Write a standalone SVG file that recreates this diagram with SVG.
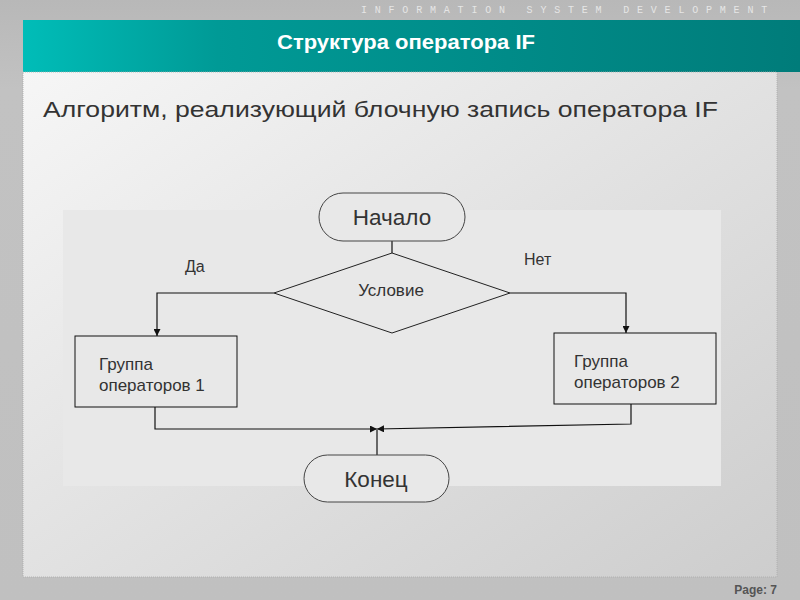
<svg xmlns="http://www.w3.org/2000/svg" width="800" height="600" viewBox="0 0 800 600">
<defs>
<linearGradient id="hdr" x1="0" y1="0" x2="1" y2="0">
<stop offset="0" stop-color="#00bdb8"/>
<stop offset="0.25" stop-color="#009a96"/>
<stop offset="1" stop-color="#007c7a"/>
</linearGradient>
<linearGradient id="panel" x1="0" y1="0" x2="1" y2="1">
<stop offset="0" stop-color="#f6f6f6"/>
<stop offset="1" stop-color="#cdcdcd"/>
</linearGradient>
<linearGradient id="bg" x1="0" y1="0" x2="0" y2="1">
<stop offset="0" stop-color="#b8b8b8"/>
<stop offset="0.15" stop-color="#c2c2c2"/>
<stop offset="1" stop-color="#c0c0c0"/>
</linearGradient>
<marker id="arr" viewBox="0 0 10 10" refX="10" refY="5" markerWidth="7" markerHeight="7" orient="auto" markerUnits="userSpaceOnUse">
<path d="M0,0 L10,5 L0,10 z" fill="#111"/>
</marker>
</defs>
<style>
.term{fill:#e8e8e8;stroke:#444;stroke-width:1}
.box{fill:#e8e8e8;stroke:#111;stroke-width:1}
.t{font-family:"Liberation Sans",Arial,sans-serif;fill:#333}
.conn{fill:none;stroke:#111;stroke-width:1.2}
</style>
<rect x="0" y="0" width="800" height="600" fill="url(#bg)"/>
<text x="775" y="13" text-anchor="end" font-family="Liberation Mono,monospace" font-size="10" letter-spacing="7.8" fill="#e6e6e6">INFORMATION  SYSTEM  DEVELOPMENT</text>
<rect x="23" y="20" width="777" height="52" fill="url(#hdr)"/>
<text x="406" y="49" text-anchor="middle" font-family="Liberation Sans,Arial,sans-serif" font-weight="bold" font-size="20" fill="#ffffff" textLength="258" lengthAdjust="spacingAndGlyphs">Структура оператора IF</text>
<rect x="23" y="72" width="754" height="505" fill="url(#panel)" stroke="#aaaaaa" stroke-width="0.8" stroke-dasharray="1 1"/>
<text x="43" y="117" class="t" font-size="22" fill="#222" textLength="675" lengthAdjust="spacingAndGlyphs">Алгоритм, реализующий блочную запись оператора IF</text>
<rect x="63" y="210" width="658" height="276" fill="#e8e8e8"/>
<g id="connectors">
<line x1="392" y1="241" x2="392" y2="253" class="conn" stroke="#555"/>
<polyline points="274,293 157,293 157,336" class="conn" marker-end="url(#arr)"/>
<polyline points="510,293 626,293 626,333" class="conn" marker-end="url(#arr)"/>
<polyline points="155,407 155,429 377,429" class="conn" marker-end="url(#arr)"/>
<polyline points="631,404 631,424 377,429" class="conn" marker-end="url(#arr)"/>
<line x1="377" y1="455" x2="377" y2="430" class="conn" stroke="#555"/>
</g>
<g id="start">
<rect x="319" y="193" width="146" height="48" rx="24" class="term"/>
<text x="392" y="225" text-anchor="middle" class="t" font-size="22.5">Начало</text>
</g>
<g id="condition">
<polygon points="392,253 510,293 392,333 274,293" fill="#e8e8e8" stroke="#222" stroke-width="1"/>
<text x="391" y="296" text-anchor="middle" class="t" font-size="17">Условие</text>
</g>
<text x="185" y="272" class="t" font-size="16">Да</text>
<text x="524" y="265" class="t" font-size="16">Нет</text>
<g id="group1">
<rect x="75" y="336" width="162" height="71" class="box"/>
<text x="99" y="370" class="t" font-size="17">Группа</text>
<text x="99" y="391" class="t" font-size="17">операторов 1</text>
</g>
<g id="group2">
<rect x="554" y="333" width="162" height="71" class="box"/>
<text x="574" y="367" class="t" font-size="17">Группа</text>
<text x="574" y="388" class="t" font-size="17">операторов 2</text>
</g>
<g id="end">
<rect x="304" y="455" width="145" height="47" rx="23.5" class="term"/>
<text x="376" y="487" text-anchor="middle" class="t" font-size="22.5">Конец</text>
</g>
<text x="777" y="594" text-anchor="end" font-family="Liberation Sans,Arial,sans-serif" font-weight="bold" font-size="12" fill="#555">Page: 7</text>
</svg>
